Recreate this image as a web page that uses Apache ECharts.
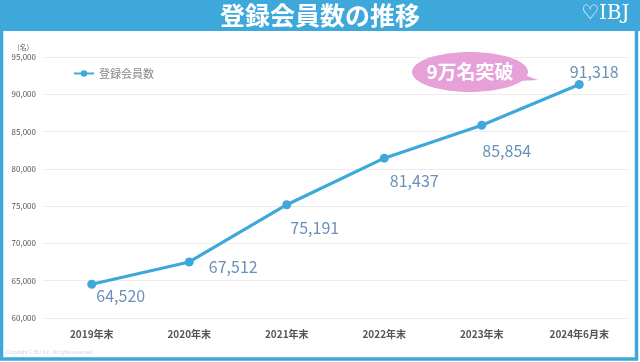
<!DOCTYPE html>
<html>
<head>
<meta charset="utf-8">
<script src="https://cdn.jsdelivr.net/npm/echarts@6/dist/echarts.min.js"></script>
<style>
html,body{margin:0;padding:0;background:#fff;}
#c{width:640px;height:362px;}
</style>
</head>
<body>
<div id="c"></div>
<script>
const categories = ['2019年末','2020年末','2021年末','2022年末','2023年末','2024年6月末'];
const members = [64520, 67512, 75191, 81437, 85854, 91318];
const labelShift = [[29,12],[44,5],[28,23],[30,23],[25,26],[15,-13]];
const yTicks = {min: 60000, max: 95000, interval: 5000};

const BLUE = '#3ea8db';
const chart = echarts.init(document.getElementById('c'));
chart.setOption({
  animation: false,
  backgroundColor: '#fff',
  textStyle: {fontFamily: '"Noto Sans CJK JP","Noto Sans",sans-serif'},
  grid: {left: 43, right: 12, top: 57, bottom: 44},
  legend: {
    left: 68, top: 63, itemWidth: 20, itemHeight: 8,
    textStyle: {color: '#888', fontSize: 11},
    data: ['登録会員数']
  },
  xAxis: {
    type: 'category', data: categories, boundaryGap: true,
    axisLine: {show: false}, axisTick: {show: false},
    axisLabel: {color: '#555', fontSize: 10, fontWeight: 'bold', margin: 11}
  },
  yAxis: {
    type: 'value', min: yTicks.min, max: yTicks.max, interval: yTicks.interval,
    name: '(名)', nameLocation: 'end', nameGap: 6,
    nameTextStyle: {color: '#666', fontSize: 7, align: 'right', padding: [0, 14, 0, 0]},
    axisLine: {show: false}, axisTick: {show: false},
    axisLabel: {color: '#555', fontSize: 8, margin: 7,
      formatter: v => v.toLocaleString('en-US')},
    splitLine: {lineStyle: {color: '#ececec', width: 1}}
  },
  series: [{
    name: '登録会員数', type: 'line', data: members,
    symbol: 'circle', symbolSize: 9,
    lineStyle: {color: BLUE, width: 3.2},
    itemStyle: {color: BLUE},
    label: {show: true, position: 'inside', color: '#6a90b8', fontSize: 16,
      formatter: p => p.value.toLocaleString('en-US')},
    labelLayout: p => ({dx: labelShift[p.dataIndex][0], dy: labelShift[p.dataIndex][1]}),
    z: 3
  }],
  graphic: [
    {type: 'rect', shape: {x: 0, y: 0, width: 640, height: 31}, style: {fill: BLUE}, z: 10},
    {type: 'rect', shape: {x: 1.5, y: 1, width: 635, height: 358}, style: {fill: 'none', stroke: BLUE, lineWidth: 3.5}, z: 10},
    {type: 'text', x: 320, y: 15, style: {text: '登録会員数の推移', fill: '#fff', fontSize: 25, fontWeight: 'bold',
      align: 'center', verticalAlign: 'middle', fontFamily: '"Noto Sans CJK JP",sans-serif'}, z: 11},
    {type: 'text', x: 581, y: 4, style: {text: '♡IBJ', fill: '#fff', fontSize: 20, fontFamily: '"DejaVu Serif","Liberation Serif",serif'}, z: 11},
    {type: 'polygon', shape: {points: [[505, 68], [538, 80], [500, 82]]}, style: {fill: '#e6a2d8'}, z: 5},
    {type: 'ellipse', shape: {cx: 470, cy: 72, rx: 58, ry: 20}, style: {fill: '#e6a2d8'}, z: 5},
    {type: 'text', x: 470, y: 72, style: {text: '9万名突破', fill: '#fff', fontSize: 19, fontWeight: 'bold',
      align: 'center', verticalAlign: 'middle', fontFamily: '"Noto Sans CJK JP",sans-serif'}, z: 6},
    {type: 'text', x: 6, y: 350, style: {text: 'Copyright © IBJ Inc. All rights reserved.', fill: '#c8d8e8', fontSize: 5}, z: 6}
  ]
});
</script>
</body>
</html>
